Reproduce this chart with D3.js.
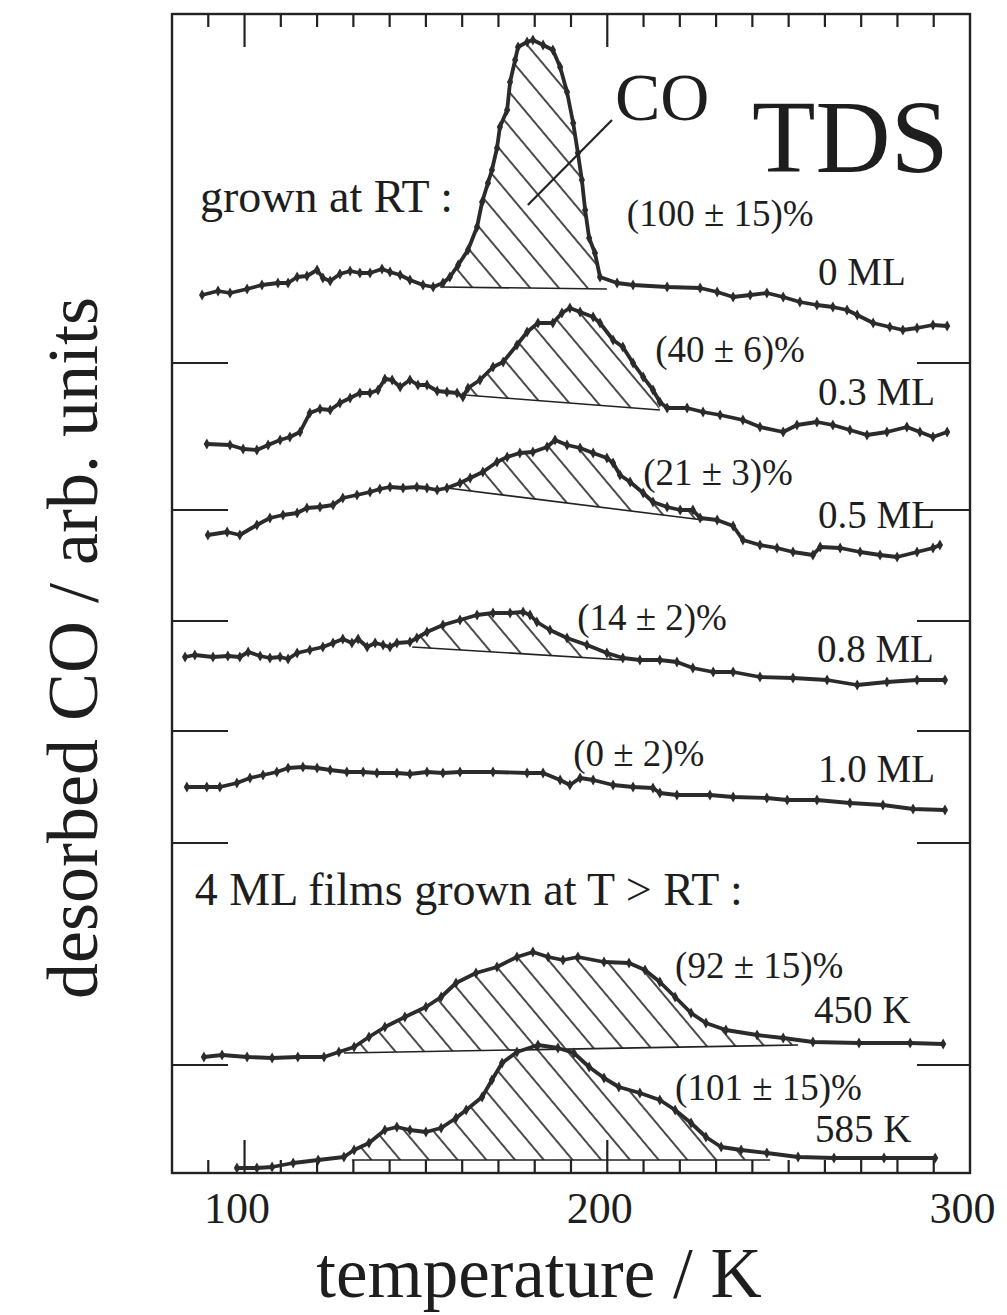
<!DOCTYPE html>
<html>
<head>
<meta charset="utf-8">
<script src="https://cdn.jsdelivr.net/npm/d3@7"></script>
<style>
  html, body { margin: 0; padding: 0; background: #fff; }
  svg { display: block; }
  text { font-family: "Liberation Serif", "DejaVu Serif", serif; fill: #1e1e1e; }
</style>
</head>
<body>
<svg id="chart" width="1007" height="1315"></svg>
<script>
// ---- TDS spectra: [temperature K, desorbed CO (arb. units, curves stacked)] ----
const series0ML = [[88.3,8.78],[92.7,8.82],[96.0,8.80],[100.7,8.84],[104.8,8.88],[109.2,8.90],[112.0,8.90],[114.5,8.96],[117.2,8.97],[120.0,9.03],[121.6,8.95],[123.6,8.92],[126.3,8.99],[129.1,9.02],[131.8,9.00],[134.6,9.00],[137.9,9.04],[140.1,9.01],[142.9,8.98],[145.6,8.93],[149.2,8.88],[152.0,8.86],[154.7,8.90],[156.6,8.96],[158.9,9.08],[161.6,9.23],[164.1,9.46],[165.5,9.71],[167.1,9.90],[168.2,10.03],[169.6,10.25],[170.4,10.46],[172.4,10.63],[173.2,10.91],[174.6,11.13],[175.4,11.26],[177.9,11.31],[179.5,11.33],[182.3,11.28],[185.0,11.23],[187.0,11.06],[188.9,10.81],[190.6,10.50],[191.9,10.20],[193.0,9.93],[193.9,9.63],[195.0,9.35],[196.6,9.20],[198.0,8.96],[202.7,8.90],[207.1,8.88],[216.5,8.86],[225.6,8.85],[230.3,8.81],[234.7,8.76],[239.4,8.78],[244.0,8.80],[248.5,8.76],[253.1,8.71],[257.8,8.68],[262.2,8.66],[266.1,8.63],[268.9,8.58],[273.3,8.50],[277.9,8.46],[281.5,8.43],[285.4,8.45],[289.8,8.48],[293.7,8.47]];
const series03ML = [[89.6,7.29],[96.0,7.28],[99.6,7.24],[103.4,7.23],[106.5,7.28],[109.8,7.33],[112.5,7.36],[115.3,7.41],[118.0,7.60],[120.8,7.64],[123.6,7.63],[126.3,7.70],[129.1,7.75],[131.8,7.80],[134.6,7.80],[136.8,7.83],[138.7,7.94],[140.7,7.93],[142.9,7.86],[145.6,7.93],[147.8,7.88],[150.3,7.88],[153.1,7.82],[155.8,7.81],[158.6,7.80],[160.2,7.76],[161.6,7.85],[164.9,7.93],[168.5,8.06],[171.3,8.11],[175.1,8.28],[177.9,8.41],[180.9,8.50],[185.0,8.50],[187.5,8.60],[189.7,8.65],[192.5,8.61],[196.1,8.56],[198.0,8.50],[201.6,8.33],[204.3,8.26],[207.1,8.10],[209.9,7.96],[212.6,7.83],[214.5,7.71],[216.5,7.65],[222.0,7.65],[226.4,7.61],[231.1,7.58],[237.4,7.53],[242.1,7.46],[248.5,7.41],[252.3,7.48],[257.8,7.51],[262.2,7.48],[266.9,7.43],[271.6,7.38],[277.1,7.41],[282.6,7.46],[286.2,7.41],[289.8,7.36],[293.7,7.41]];
const series05ML = [[89.9,6.38],[95.2,6.41],[98.7,6.38],[103.4,6.48],[107.0,6.55],[110.6,6.58],[114.5,6.60],[117.2,6.65],[120.8,6.66],[124.4,6.68],[127.1,6.75],[131.0,6.78],[134.6,6.81],[137.3,6.84],[140.1,6.86],[143.7,6.85],[147.5,6.86],[150.3,6.85],[153.1,6.83],[155.8,6.85],[159.4,6.90],[162.2,6.95],[165.7,7.01],[169.6,7.11],[172.4,7.16],[175.9,7.20],[179.5,7.21],[183.4,7.26],[185.6,7.33],[188.9,7.28],[192.5,7.25],[196.1,7.20],[199.9,7.15],[201.6,7.10],[203.5,6.98],[206.3,6.91],[209.9,6.80],[212.6,6.71],[216.5,6.66],[220.1,6.63],[223.6,6.63],[225.6,6.55],[230.3,6.53],[234.7,6.47],[237.4,6.33],[242.1,6.28],[246.8,6.25],[251.2,6.21],[256.7,6.18],[258.7,6.26],[264.2,6.25],[269.7,6.21],[275.2,6.18],[279.9,6.16],[285.4,6.21],[289.8,6.25],[291.7,6.28]];
const series08ML = [[83.6,5.16],[86.3,5.18],[91.3,5.16],[95.4,5.17],[98.7,5.16],[101.0,5.21],[104.3,5.17],[107.0,5.15],[109.8,5.16],[112.0,5.14],[114.5,5.20],[118.0,5.23],[121.6,5.26],[124.4,5.30],[127.1,5.34],[129.6,5.30],[131.3,5.34],[133.8,5.26],[136.0,5.30],[138.2,5.28],[140.1,5.26],[142.0,5.30],[145.6,5.31],[147.5,5.35],[150.3,5.41],[154.7,5.48],[159.4,5.53],[164.1,5.58],[168.5,5.60],[173.2,5.60],[176.8,5.61],[178.7,5.58],[180.6,5.51],[184.2,5.43],[188.9,5.35],[194.4,5.28],[199.9,5.20],[204.3,5.15],[209.0,5.13],[214.5,5.13],[219.2,5.11],[223.6,5.05],[229.2,5.01],[234.7,5.01],[242.1,4.96],[251.2,4.95],[260.6,4.93],[268.9,4.88],[277.1,4.91],[285.4,4.93],[293.1,4.93]];
const series10ML = [[84.1,3.86],[89.6,3.86],[93.2,3.86],[97.9,3.90],[101.5,3.95],[105.1,3.98],[108.9,4.01],[112.0,4.05],[116.1,4.06],[120.0,4.05],[123.6,4.03],[128.2,4.01],[132.7,4.01],[136.5,4.00],[142.0,4.00],[145.6,3.99],[150.3,4.01],[154.7,4.00],[159.4,4.01],[168.5,4.01],[177.9,4.00],[182.3,4.00],[187.0,3.93],[189.7,3.88],[192.5,3.95],[196.1,3.93],[201.6,3.88],[207.1,3.86],[212.6,3.85],[214.5,3.80],[219.2,3.78],[228.3,3.78],[234.7,3.76],[244.0,3.75],[249.6,3.73],[257.8,3.73],[266.9,3.70],[276.0,3.68],[284.3,3.64],[293.1,3.63]];
const series450K = [[88.8,1.16],[93.8,1.18],[100.7,1.16],[107.6,1.15],[114.7,1.16],[121.9,1.16],[126.0,1.21],[130.2,1.26],[134.3,1.36],[138.7,1.46],[144.2,1.56],[150.0,1.66],[154.2,1.76],[158.3,1.90],[163.8,2.00],[169.6,2.06],[175.1,2.16],[179.5,2.21],[183.7,2.16],[187.8,2.13],[191.9,2.16],[199.1,2.11],[206.0,2.10],[210.4,2.03],[214.5,1.91],[218.7,1.76],[223.1,1.60],[227.2,1.50],[232.7,1.43],[241.3,1.38],[248.5,1.35],[256.7,1.31],[269.4,1.30],[283.5,1.30],[292.6,1.29]];
const series585K = [[97.9,0.05],[103.4,0.05],[107.6,0.06],[113.4,0.10],[120.3,0.13],[127.4,0.16],[130.2,0.23],[134.3,0.30],[138.7,0.43],[142.0,0.46],[145.6,0.43],[150.0,0.41],[154.2,0.45],[158.3,0.55],[161.1,0.63],[165.5,0.76],[168.2,0.93],[171.0,1.10],[175.1,1.21],[180.9,1.28],[186.4,1.25],[190.8,1.20],[195.0,1.06],[199.1,0.95],[203.2,0.86],[209.0,0.80],[214.5,0.73],[218.7,0.63],[223.1,0.50],[227.2,0.36],[231.4,0.26],[236.9,0.23],[244.0,0.20],[252.6,0.16],[262.5,0.15],[276.3,0.15],[290.4,0.15]];

// integration baselines (start and end of the hatched CO peak)
const base0ML   = [[153.9,8.86],[199.9,8.84]];
const base03ML  = [[160.8,7.78],[214.5,7.63]];
const base05ML  = [[155.8,6.85],[226.4,6.53]];
const base08ML  = [[146.2,5.26],[204.3,5.13]];
const base450K  = [[127.4,1.20],[252.6,1.28]];
const base585K  = [[129.6,0.13],[244.9,0.13]];

const curveLabels = ["0 ML", "0.3 ML", "0.5 ML", "0.8 ML", "1.0 ML", "450 K", "585 K"];
const yieldLabels = ["(100 \u00b1 15)%", "(40 \u00b1 6)%", "(21 \u00b1 3)%", "(14 \u00b1 2)%", "(0 \u00b1 2)%", "(92 \u00b1 15)%", "(101 \u00b1 15)%"];
const xTickLabels = [100, 200, 300];
const xMinorTicks = d3.range(90, 300, 10);
const yOffsetTicks = [8.10, 6.63, 5.52, 4.42, 3.30, 1.08];

// ---- layout ----
const svg = d3.select("#chart");
const frame = { left: 172, right: 970, top: 14, bottom: 1173 };
const x = d3.scaleLinear().domain([80, 300]).range([frame.left, frame.right]);
const y = d3.scaleLinear().domain([0, 11.59]).range([frame.bottom, frame.top]);
const ink = "#222";

// hatch pattern for the integrated CO peaks
const defs = svg.append("defs");
defs.append("pattern")
  .attr("id", "hatch")
  .attr("patternUnits", "userSpaceOnUse")
  .attr("width", 22).attr("height", 22)
  .attr("patternTransform", "rotate(-40)")
  .append("line")
  .attr("x1", 1).attr("y1", -5).attr("x2", 1).attr("y2", 27)
  .attr("stroke", "#1e1e1e").attr("stroke-width", 1.6);

// frame
svg.append("rect")
  .attr("x", frame.left).attr("y", frame.top)
  .attr("width", frame.right - frame.left).attr("height", frame.bottom - frame.top)
  .attr("fill", "none").attr("stroke", ink).attr("stroke-width", 2.4);

// temperature axis labels
const xAxisBottom = d3.axisBottom(x).tickValues(xTickLabels).tickSize(0).tickPadding(18).tickFormat(d3.format("d"));
const gxb = svg.append("g").attr("transform", `translate(0,${frame.bottom})`).call(xAxisBottom);
gxb.select(".domain").remove();
gxb.selectAll("text").attr("font-size", 44).attr("dy", "0.72em").attr("dx", -8)
  .style("font-family", '"Liberation Serif", serif').attr("fill", ink);

// tick marks along bottom and top edges
function tickMarks(g, dir) {
  g.selectAll("line").data(xMinorTicks).join("line")
    .attr("x1", d => x(d)).attr("x2", d => x(d))
    .attr("y1", 0).attr("y2", d => dir * (d % 100 === 0 ? 33 : 13))
    .attr("stroke", ink).attr("stroke-width", 2.2);
}
svg.append("g").attr("transform", `translate(0,${frame.bottom})`).call(tickMarks, -1);
svg.append("g").attr("transform", `translate(0,${frame.top})`).call(tickMarks, 1);

// offset ticks on both sides
svg.append("g").selectAll("line").data(yOffsetTicks).join("line")
  .attr("x1", frame.left).attr("x2", frame.left + 56)
  .attr("y1", d => y(d)).attr("y2", d => y(d))
  .attr("stroke", ink).attr("stroke-width", 2.2);
svg.append("g").selectAll("line").data(yOffsetTicks).join("line")
  .attr("x1", frame.right - 53).attr("x2", frame.right)
  .attr("y1", d => y(d)).attr("y2", d => y(d))
  .attr("stroke", ink).attr("stroke-width", 2.2);

// hatched peak areas
const spectra = [
  { data: series0ML, base: base0ML },
  { data: series03ML, base: base03ML },
  { data: series05ML, base: base05ML },
  { data: series08ML, base: base08ML },
  { data: series10ML, base: null },
  { data: series450K, base: base450K },
  { data: series585K, base: base585K }
];

const area = d3.area().x(d => x(d.t)).y0(d => y(d.b)).y1(d => y(d.v));
spectra.forEach(s => {
  if (!s.base) return;
  const bl = d3.scaleLinear().domain(s.base.map(d => d[0])).range(s.base.map(d => d[1]));
  const [t0, t1] = [s.base[0][0], s.base[1][0]];
  const pts = [{ t: t0, v: s.base[0][1], b: s.base[0][1] }]
    .concat(s.data.filter(d => d[0] > t0 && d[0] < t1).map(d => ({ t: d[0], v: d[1], b: bl(d[0]) })))
    .concat([{ t: t1, v: s.base[1][1], b: s.base[1][1] }]);
  svg.append("path").datum(pts).attr("d", area).attr("fill", "url(#hatch)").attr("stroke", "none");
  svg.append("line")
    .attr("x1", x(t0)).attr("y1", y(s.base[0][1]))
    .attr("x2", x(t1)).attr("y2", y(s.base[1][1]))
    .attr("stroke", ink).attr("stroke-width", 1.6);
});

// spectra with data markers
const line = d3.line().x(d => x(d[0])).y(d => y(d[1]));
const diamond = d3.symbol().type(d3.symbolDiamond).size(34);
spectra.forEach(s => {
  svg.append("path").datum(s.data).attr("d", line)
    .attr("fill", "none").attr("stroke", "#2b2b2b").attr("stroke-width", 3.8).attr("stroke-linejoin", "round");
  svg.append("g").selectAll("path").data(s.data).join("path")
    .attr("d", diamond)
    .attr("transform", d => `translate(${x(d[0])},${y(d[1])})`)
    .attr("fill", "#2b2b2b");
});

// curve labels (coverage / growth temperature)
const curveLabelPos = [[258.1, 8.88], [258.1, 7.68], [258.1, 6.45], [257.8, 5.11], [258.1, 3.91], [257.0, 1.50], [257.3, 0.31]];
svg.append("g").selectAll("text").data(curveLabels).join("text")
  .attr("x", (d, i) => x(curveLabelPos[i][0]))
  .attr("y", (d, i) => y(curveLabelPos[i][1]))
  .attr("font-size", 39)
  .text(d => d);

// relative CO yields
const yieldPos = [[205.4, 9.47], [213.2, 8.11], [209.9, 6.88], [191.7, 5.43], [190.6, 4.07], [218.7, 1.95], [218.7, 0.73]];
svg.append("g").selectAll("text").data(yieldLabels).join("text")
  .attr("x", (d, i) => x(yieldPos[i][0]))
  .attr("y", (d, i) => y(yieldPos[i][1]))
  .attr("font-size", 37)
  .text(d => d);

// group headings
svg.append("text").attr("x", x(87.7)).attr("y", y(9.61)).attr("font-size", 46).text("grown at RT :");
svg.append("text").attr("x", x(86.3)).attr("y", y(2.68)).attr("font-size", 46).text("4 ML films grown at T > RT :");

// CO marker with leader line and TDS title
svg.append("line")
  .attr("x1", x(178.1)).attr("y1", y(9.68)).attr("x2", x(201.3)).attr("y2", y(10.53))
  .attr("stroke", ink).attr("stroke-width", 2.2);
svg.append("text").attr("x", x(202.1)).attr("y", y(10.53)).attr("font-size", 68).text("CO");
svg.append("text").attr("x", x(239.9)).attr("y", y(10.01)).attr("font-size", 104).text("TDS");

// axis titles
svg.append("text").attr("x", 539).attr("y", 1297)
  .attr("text-anchor", "middle").attr("font-size", 71).text("temperature / K");
svg.append("text").attr("transform", "translate(97,648) rotate(-90)")
  .attr("text-anchor", "middle").attr("font-size", 72).text("desorbed CO / arb. units");
</script>
</body>
</html>
